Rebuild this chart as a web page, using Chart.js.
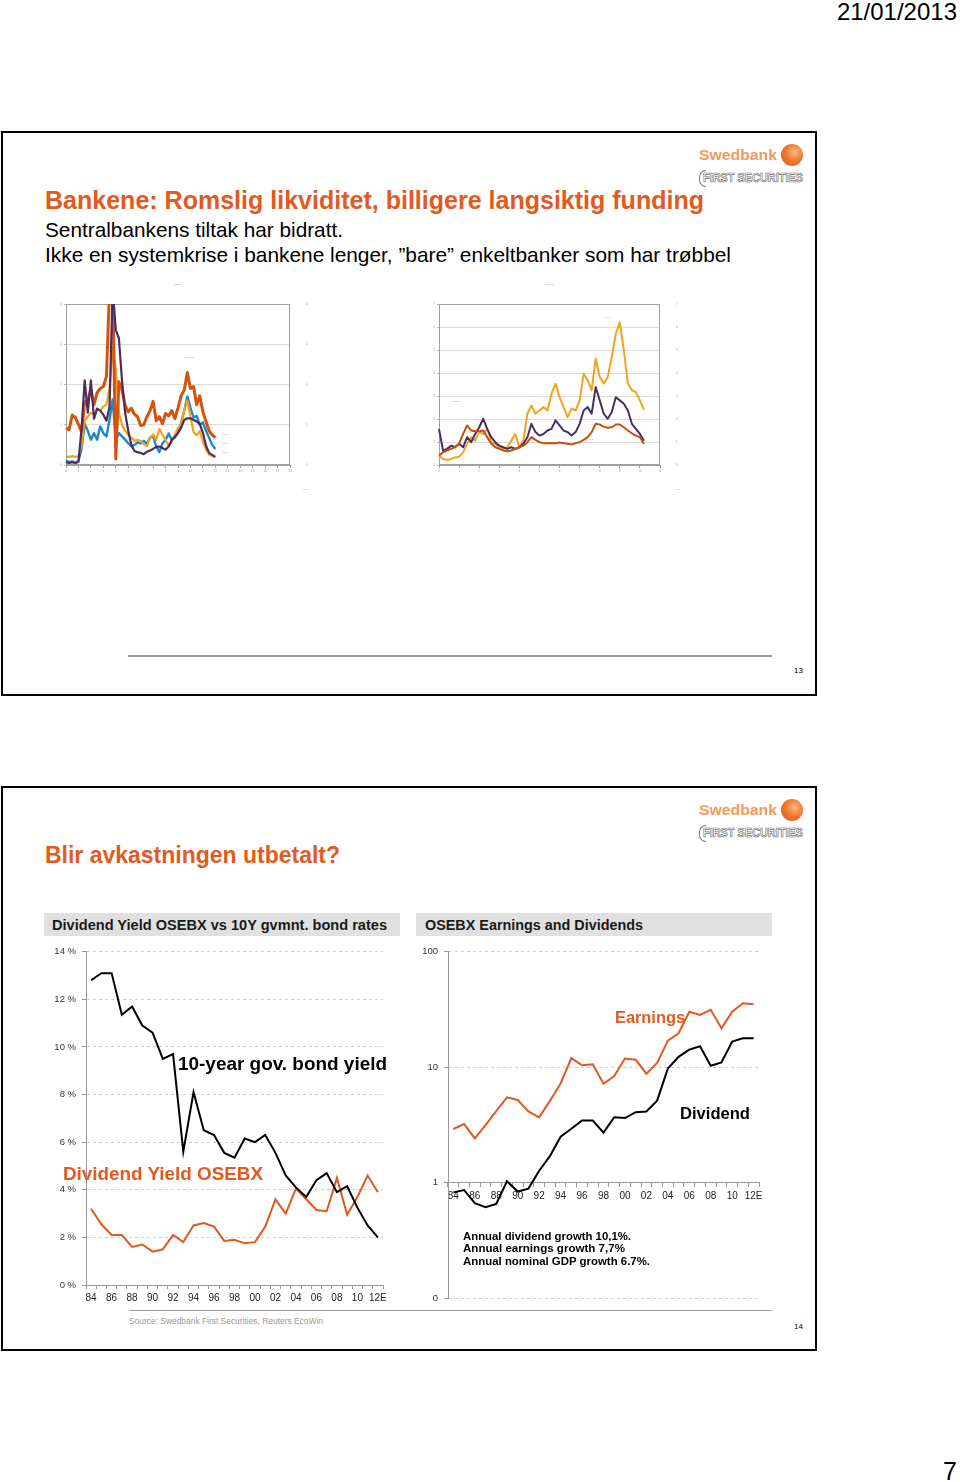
<!DOCTYPE html>
<html><head><meta charset="utf-8">
<script src="https://cdn.jsdelivr.net/npm/chart.js@4/dist/chart.umd.min.js"></script>
<style>
html,body{margin:0;padding:0;background:#fff;}
body{position:relative;width:960px;height:1482px;overflow:hidden;font-family:"Liberation Sans",Arial,sans-serif;}
.slide{position:absolute;box-sizing:border-box;border:2px solid #000;background:#fff;}
canvas{position:absolute;}
.hl{position:absolute;background:#9a9a9a;}
.hdr{position:absolute;background:#e0e0e0;}
</style></head><body>
<div class="slide" style="left:1px;top:131px;width:816px;height:565px"></div>
<div class="slide" style="left:1px;top:786px;width:816px;height:565px"></div>
<div class="hl" style="left:128px;top:655px;width:644px;height:1.5px"></div>
<div class="hl" style="left:129px;top:1309.5px;width:643px;height:1.5px"></div>
<div class="hdr" style="left:44px;top:913px;width:356px;height:23px"></div>
<div class="hdr" style="left:416px;top:913px;width:356px;height:23px"></div>
<script>
// ================= DATA =================
// Top-left thumbnail: four spread series (period index 0..12, step 0.25)
const tlOrange = [0.92,0.88,1.24,1.18,1.01,0.82,1.57,1.60,1.88,1.50,1.80,1.90,1.95,2.20,4.40,4.40,0.15,2.07,1.86,1.49,1.32,1.41,1.26,1.20,
                  0.98,1.00,1.20,1.35,1.58,1.10,1.20,1.02,1.28,1.22,1.35,1.15,1.42,1.72,1.86,2.30,1.90,1.95,1.50,1.72,1.32,1.08,0.85,0.75,0.68];
const tlBlue   = [0.11,0.07,0.09,0.05,0.10,0.40,1.02,0.85,0.63,0.79,0.63,0.96,0.79,0.71,1.13,1.63,0.63,0.79,0.71,0.63,0.54,0.46,0.50,0.56,
                  0.54,0.60,0.52,0.68,0.72,0.46,0.32,0.54,0.62,0.78,0.62,0.68,0.82,1.05,1.35,1.70,1.42,1.18,1.22,1.00,1.06,0.85,0.68,0.50,0.40];
const tlGold   = [0.21,0.20,0.22,0.20,0.22,0.50,1.10,1.20,1.30,1.25,1.40,1.35,1.45,1.50,1.90,2.90,2.40,1.30,1.00,0.85,0.75,0.68,0.60,0.62,
                  0.60,0.52,0.47,0.68,0.76,0.62,0.90,0.75,0.62,0.48,0.58,0.76,0.92,1.02,1.35,1.60,1.20,0.82,0.74,0.84,0.58,0.38,0.26,0.22,0.20];
const tlPurple = [0.07,0.05,0.07,0.05,0.08,0.90,2.10,1.30,2.10,1.15,1.40,1.35,1.25,1.10,1.45,4.40,3.35,3.15,2.10,1.30,0.85,0.50,0.35,0.32,
                  0.30,0.27,0.33,0.36,0.40,0.45,0.46,0.42,0.38,0.46,0.62,0.70,0.80,0.92,1.12,1.16,1.16,1.12,1.08,1.02,0.80,0.48,0.30,0.25,0.20];
const tlPeriods = 18;      // x axis runs 0..18 (4 steps per period)
const tlMax = 4;           // y axis 0..4

// Top-right thumbnail: three series (period index 0..10.2, step 0.2)
const trGold   = [0.41,0.26,0.22,0.26,0.33,0.36,0.55,0.92,1.21,1.06,1.43,1.35,1.57,0.99,0.92,0.77,0.70,0.77,1.06,1.35,
                  0.77,1.06,2.23,2.59,2.23,2.37,2.52,2.37,3.10,3.54,2.95,2.52,2.08,2.45,2.37,2.81,3.97,3.68,3.25,4.63,
                  3.83,3.54,3.83,4.70,5.70,6.20,4.99,3.54,3.25,3.17,2.81,2.40];
const trPurple = [1.57,0.63,0.70,0.84,0.77,0.92,0.77,1.21,0.99,1.35,1.64,2.01,1.57,1.21,0.99,0.84,0.77,0.70,0.77,0.70,
                  0.77,0.92,1.21,1.79,1.43,1.28,1.35,1.50,1.57,1.94,1.72,1.50,1.43,1.28,1.43,1.79,2.37,2.52,2.23,3.39,
                  2.81,2.23,2.01,2.30,2.95,2.81,2.66,2.37,1.79,1.57,1.35,1.05];
const trRust   = [0.41,0.55,0.63,0.70,0.77,0.92,1.35,1.72,1.50,1.47,1.47,1.50,1.21,0.92,0.77,0.70,0.63,0.60,0.63,0.70,
                  0.77,0.84,0.99,1.21,1.09,0.99,0.95,0.95,0.96,0.95,0.98,0.95,0.92,0.89,0.95,0.99,1.09,1.21,1.43,1.79,
                  1.76,1.67,1.62,1.64,1.76,1.76,1.64,1.50,1.38,1.28,1.21,0.92];
const trPeriods = 11;      // x axis 0..11 (5 steps per period)
const trMax = 7;

// Bottom charts
const years = ['84','85','86','87','88','89','90','91','92','93','94','95','96','97','98','99','00','01','02','03','04','05','06','07','08','09','10','11','12E'];
const bondYield = [12.8,13.1,13.1,11.35,11.7,10.9,10.6,9.5,9.7,5.6,8.1,6.5,6.3,5.55,5.35,6.15,6.0,6.3,5.55,4.6,4.1,3.7,4.4,4.7,3.9,4.15,3.25,2.5,2.0];
const divYield  = [3.2,2.55,2.1,2.1,1.6,1.7,1.4,1.5,2.1,1.8,2.5,2.6,2.45,1.85,1.9,1.75,1.8,2.45,3.6,3.0,4.05,3.6,3.15,3.1,4.5,2.95,3.7,4.6,3.9];
const earnings  = [2.92,3.22,2.42,3.16,4.17,5.49,5.21,4.14,3.68,5.11,7.23,12.0,10.4,10.6,7.2,8.4,11.9,11.6,8.8,10.9,17.0,19.7,30.2,28.4,31.4,21.7,30.2,35.8,35.1];
const dividends = [0.826,0.866,0.665,0.615,0.656,1.03,0.84,0.89,1.27,1.70,2.5,2.93,3.46,3.46,2.72,3.69,3.63,4.08,4.14,5.14,9.73,12.3,14.2,15.2,10.3,11.0,16.7,17.8,17.8];
const pctMax = 14, pctStep = 2;
const logTicks = [0.1, 1, 10, 100];

// ================= HELPERS =================
const ORANGE = '#E35A1E';
const FONT = '"Liberation Sans", Arial, sans-serif';
Chart.defaults.font.family = FONT;
Chart.defaults.color = '#333';
Chart.defaults.animation = false;

function mkCanvas(l,t,w,h){
  const c=document.createElement('canvas');
  c.width=w; c.height=h;
  c.style.left=l+'px'; c.style.top=t+'px'; c.style.width=w+'px'; c.style.height=h+'px';
  document.body.appendChild(c); return c;
}
function T(str, x, cy, size, o={}){
  const el=document.createElement('div');
  el.textContent=str;
  const lh=Math.round(size*1.2);
  el.style.cssText=`position:absolute;white-space:nowrap;left:${x}px;top:${cy-lh/2}px;font-size:${size}px;line-height:${lh}px;font-weight:${o.bold?'bold':'normal'};color:${o.color||'#000'};font-family:${o.family||FONT};transform-origin:0 50%;`+(o.css||'');
  document.body.appendChild(el);
  const aw=el.getBoundingClientRect().width;
  let s=1;
  if(o.w){ s=o.w/aw; el.style.transform=`scaleX(${s})`; }
  if(o.right!==undefined){ el.style.left=(o.right-aw*s)+'px'; }
  return el;
}
function ds(data,color,width,extra){
  return Object.assign({data,borderColor:color,borderWidth:width,pointRadius:0,tension:0,fill:false,borderJoinStyle:'round'},extra||{});
}
const framePlugin={id:'frame',beforeDatasetsDraw(chart,args,opts){
  if(!opts||!opts.color) return;
  const a=chart.chartArea, ctx=chart.ctx;
  ctx.save(); ctx.strokeStyle=opts.color; ctx.lineWidth=1;
  ctx.strokeRect(Math.round(a.left)+0.5,Math.round(a.top)+0.5,Math.round(a.right-a.left)-1,Math.round(a.bottom-a.top)-1);
  ctx.restore();
}};
Chart.register(framePlugin);

function thumb(canvas, labels, every, datasets, ymax, yW, y2W, xH, padTop){
  return new Chart(canvas,{
    type:'line',
    data:{labels,datasets},
    options:{responsive:false,devicePixelRatio:1,
      layout:{padding:{top:padTop,left:0,right:0,bottom:0}},
      plugins:{legend:{display:false},tooltip:{enabled:false},frame:{color:'#a0a0a0'}},
      scales:{
        x:{type:'category',offset:false,
           grid:{offset:false,drawOnChartArea:false,tickLength:3,tickColor:c=>(c.index%every===0?'#a0a0a0':'rgba(0,0,0,0)')},
           border:{color:'#a0a0a0'},
           ticks:{autoSkip:false,maxRotation:0,font:{size:3},color:'#999',padding:1,callback:(v,i)=>(i%every===0?String(i/every):'')},
           afterFit:s=>{s.height=xH;}},
        y:{min:0,max:ymax,ticks:{stepSize:1,font:{size:3},color:'#999',padding:2},
           grid:{color:'#dcdcdc',tickLength:2,tickColor:'#bbb'},border:{color:'#a0a0a0'},
           afterFit:s=>{s.width=yW;}},
        y2:{position:'right',min:0,max:ymax,ticks:{stepSize:1,font:{size:3},color:'#999',padding:16},
           grid:{drawOnChartArea:false,drawTicks:false},border:{display:false},
           afterFit:s=>{s.width=y2W;}}
      }}
  });
}

// ================= TOP THUMBNAILS =================
const tlLabels = Array.from({length: tlPeriods*4+1}, (_, i) => String(i));
thumb(mkCanvas(40,280,290,215), tlLabels, 4, [
  ds(tlPurple,'#4d2c5e',2.2),
  ds(tlOrange,'#d9520b',3),
  ds(tlGold,'#f2a31c',2.2),
  ds(tlBlue,'#1c89c8',2.4)
], tlMax, 26, 40, 30, 24);

const trLabels = Array.from({length: trPeriods*5+1}, (_, i) => String(i));
thumb(mkCanvas(420,280,290,215), trLabels, 5, [
  ds(trRust,'#c4500e',2),
  ds(trPurple,'#47305e',2),
  ds(trGold,'#f2a21e',2)
], trMax, 19, 50, 30, 24);

// ================= BOTTOM CHARTS =================
const tickX = {autoSkip:false,maxRotation:0,font:{size:10},color:'#222',padding:3,callback:(v,i)=>(i%2===0?years[i]:'')};
new Chart(mkCanvas(44,940,356,370),{
  type:'line',
  data:{labels:years,datasets:[ds(bondYield,'#000',2,{borderJoinStyle:'miter'}),ds(divYield,'#E0591E',2,{borderJoinStyle:'miter'})]},
  options:{responsive:false,devicePixelRatio:1,
    layout:{padding:{top:9,right:17,bottom:5,left:0}},
    plugins:{legend:{display:false},tooltip:{enabled:false}},
    scales:{
      x:{offset:true,grid:{offset:true,drawOnChartArea:false,tickLength:4,tickColor:'#999'},border:{color:'#999'},ticks:tickX,afterFit:s=>{s.height=20;}},
      y:{min:0,max:pctMax,ticks:{stepSize:pctStep,font:{size:9.5},color:'#333',padding:6,callback:v=>v+' %'},
         grid:{color:'#cfcfcf',tickLength:4,tickColor:'#999'},border:{color:'#999',dash:[3,3]},afterFit:s=>{s.width=42;}}
    }}
});
new Chart(mkCanvas(416,940,356,370),{
  type:'line',
  data:{labels:years,datasets:[ds(earnings,'#E0591E',2,{borderJoinStyle:'miter'}),ds(dividends,'#000',2,{borderJoinStyle:'miter'})]},
  options:{responsive:false,devicePixelRatio:1,
    layout:{padding:{top:9,right:13,bottom:11,left:0}},
    plugins:{legend:{display:false},tooltip:{enabled:false}},
    scales:{
      x:{position:{y:1},offset:true,grid:{offset:true,drawOnChartArea:false,tickLength:4,tickColor:'#999'},border:{color:'#999'},ticks:tickX},
      y:{type:'logarithmic',min:0.1,max:100,
         afterBuildTicks:s=>{s.ticks=logTicks.map(v=>({value:v}));},
         ticks:{font:{size:9.5},color:'#333',padding:6,callback:v=>(v<1?'0':String(v))},
         grid:{color:'#cfcfcf',tickLength:4,tickColor:'#999'},border:{color:'#999',dash:[3,3]},afterFit:s=>{s.width=32;}}
    }}
});

// ================= TEXT =================
T('21/01/2013',0,11,24,{right:957});
T('7',0,1471,25,{right:957});

function logo(dy){
  T('Swedbank',699,155+dy,15,{bold:1,color:'#F29A5E',w:78});
  const c=document.createElement('div');
  c.style.cssText=`position:absolute;left:781px;top:${144+dy}px;width:22px;height:22px;border-radius:50%;background:radial-gradient(circle at 62% 38%,#f9b987 0%,#ef7a30 45%,#d7561a 100%);`;
  document.body.appendChild(c);
  const b=document.createElement('div');
  b.style.cssText=`position:absolute;left:699px;top:${170+dy}px;width:6px;height:15px;border:1.5px solid #777;border-right:none;border-radius:8px 0 0 8px;`;
  document.body.appendChild(b);
  T('FIRST SECURITIES',703,178+dy,13,{bold:1,color:'#fff',w:100,css:'-webkit-text-stroke:0.7px #6e6e6e;'});
}
logo(0); logo(655);

// Slide 13
T('Bankene: Romslig likviditet, billigere langsiktig funding',45,200,25,{bold:1,color:ORANGE,w:659});
T('Sentralbankens tiltak har bidratt.',45,229,21,{w:298});
T('Ikke en systemkrise i bankene lenger, \u201dbare\u201d enkeltbanker som har trøbbel',45,254,21,{w:686});
T('——',174,283,4,{color:'#666',w:8});
T('——',545,283,4,{color:'#666',w:9});
T('———',185,357,3,{color:'#b07050',w:9});
T('——',222,434,3,{color:'#777',w:6});
T('——',222,443,3,{color:'#777',w:6});
T('——',222,452,3,{color:'#777',w:6});
T('——',452,401,3,{color:'#777',w:8});
T('——',604,317,3,{color:'#e6b060',w:8});
T('——',586,439,3,{color:'#b07050',w:8});
T('—',303,489,3,{color:'#888',w:5});
T('—',675,489,3,{color:'#888',w:5});
T('13',0,671,8,{right:803});

// Slide 14
T('Blir avkastningen utbetalt?',45,855,23,{bold:1,color:ORANGE,w:295});
T('Dividend Yield OSEBX vs 10Y gvmnt. bond rates',52,925,14,{bold:1,color:'#1a1a1a',w:335});
T('OSEBX Earnings and Dividends',425,925,14,{bold:1,color:'#1a1a1a',w:218});
T('10-year gov. bond yield',178,1064,18.5,{bold:1,w:209});
T('Dividend Yield OSEBX',63,1173,19,{bold:1,color:ORANGE,w:200});
T('Earnings',615,1017,16,{bold:1,color:ORANGE,w:70});
T('Dividend',680,1113,16,{bold:1,w:70});
T('Annual dividend growth 10,1%.',463,1236,11,{bold:1,w:168});
T('Annual earnings growth  7,7%',463,1248.5,11,{bold:1,w:162});
T('Annual nominal GDP growth 6.7%.',463,1261,11,{bold:1,w:187});
T('Source: Swedbank First Securities, Reuters EcoWin',129,1321,8.5,{color:'#999',w:194});
T('14',0,1327,8,{right:803});
</script>
</body></html>
